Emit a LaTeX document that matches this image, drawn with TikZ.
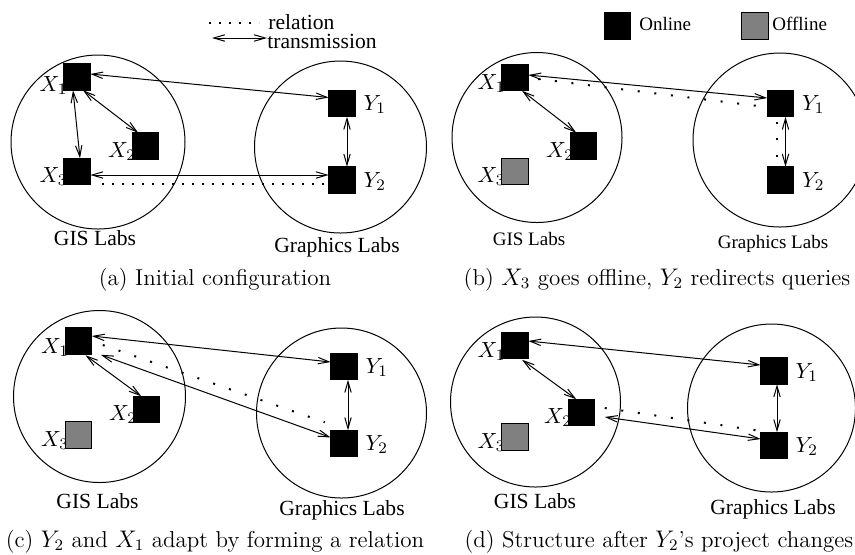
\documentclass[tikz,border=0pt]{standalone}
\usepackage{fontspec}
\newfontfamily\tms{Liberation Serif}
\usetikzlibrary{arrows.meta}
\definecolor{offgray}{RGB}{128,128,128}
\pgfdeclarelayer{bg}
\pgfsetlayers{bg,main}
\tikzset{
  sq/.style={draw=black, line width=0.5pt, fill=black, minimum size=13.25pt, inner sep=0pt, outer sep=0pt},
  offsq/.style={sq, fill=offgray},
  labring/.style={draw, circle, line width=0.5pt, inner sep=0pt},
  tx/.style={inner sep=0pt, font=\tms\fontsize{10.8}{12}\selectfont},
  txs/.style={inner sep=0pt, font=\tms\fontsize{9.5}{11}\selectfont},
  mlab/.style={inner sep=0pt, font=\fontsize{10.95}{13}\selectfont},
  captxt/.style={inner sep=0pt, anchor=base, font=\fontsize{11.5}{14}\selectfont},
  link/.style={line width=0.5pt,
    {Straight Barb[length=5.5pt,width=3.2pt]}-{Straight Barb[length=5.5pt,width=3.2pt]}},
  rel/.style={line width=1pt, dash pattern=on 1pt off 7.35pt},
  relfine/.style={line width=1pt, dash pattern=on 1pt off 4pt},
}
\begin{document}
\begin{tikzpicture}[x=0.5pt,y=-0.5pt]
\useasboundingbox (0,0) rectangle (855,554);

% ---------------- (a) initial configuration ----------------
\node[sq] (aX1) at (77,77) {};
\node[sq] (aX2) at (145.5,146) {};
\node[sq] (aX3) at (77,171.5) {};
\node[sq] (aY1) at (342,103.5) {};
\node[sq] (aY2) at (342,180) {};
\begin{pgfonlayer}{bg}
  \node[labring, minimum size=87pt] (aGIS) at (98,142) {};
  \node[labring, minimum size=86pt] (aGFX) at (340.5,147) {};
  \node[mlab, anchor=base east] (laX1) at ([shift={(4,14)}]aX1.west) {$X_1$};
  \node[mlab, anchor=base east] (laX2) at ([shift={(4,11)}]aX2.west) {$X_2$};
  \node[mlab, anchor=base east] (laX3) at ([shift={(4,11)}]aX3.west) {$X_3$};
\end{pgfonlayer}
\node[mlab, anchor=base west] (laY1) at ([shift={(8,7)}]aY1.east) {$Y_1$};
\node[mlab, anchor=base west] (laY2) at ([shift={(8,7)}]aY2.east) {$Y_2$};
\draw[link] ([shift={(0,-3)}]aX1.east) -- ([shift={(0,-6)}]aY1.west);
\draw[link] ([shift={(6,0)}]aX1.south) -- ([shift={(6,0)}]aX2.north west);
\draw[link] ([shift={(-4,0)}]aX1.south) -- ([shift={(3,0)}]aX3.north);
\draw[link] ([shift={(0,3.5)}]aX3.east) -- ([shift={(0,-5)}]aY2.west);
\draw[relfine] ([shift={(12,12.5)}]aX3.east) -- ([shift={(-2,4)}]aY2.west);
\draw[link] ([shift={(5,0)}]aY1.south) -- ([shift={(5,0)}]aY2.north);
\node[tx, anchor=base] (aGISt) at (95,245) {GIS Labs};
\node[tx, anchor=base] (aGFXt) at (337,252) {Graphics Labs};
% legend
\coordinate (lr1) at (209,23);
\coordinate (lr2) at (259,23);
\draw[relfine] (lr1) -- (lr2);
\node[tx, anchor=base west] (lrel) at (268,29) {relation};
\coordinate (lt1) at (212,38);
\coordinate (lt2) at (267,38);
\draw[link] (lt1) -- (lt2);
\node[tx, anchor=base west] (ltr) at (267,48) {transmission};
\node[captxt] (capa) at (215,285) {(a) Initial configuration};

% ---------------- (b) X3 offline ----------------
\node[sq] (bX1) at (515,77.5) {};
\node[sq] (bX2) at (583.5,146) {};
\node[offsq] (bX3) at (515,171.5) {};
\node[sq] (bY1) at (780.5,103.5) {};
\node[sq] (bY2) at (780.5,180) {};
\begin{pgfonlayer}{bg}
  \node[labring, minimum size=85pt] (bGIS) at (537,137.5) {};
  \node[labring, minimum size=87pt] (bGFX) at (780,140) {};
  \node[mlab, anchor=base east] (lbX1) at ([shift={(4,12)}]bX1.west) {$X_1$};
  \node[mlab, anchor=base east] (lbX2) at ([shift={(4,11)}]bX2.west) {$X_2$};
  \node[mlab, anchor=base east] (lbX3) at ([shift={(4,11)}]bX3.west) {$X_3$};
\end{pgfonlayer}
\node[mlab, anchor=base west] (lbY1) at ([shift={(8,7)}]bY1.east) {$Y_1$};
\node[mlab, anchor=base west] (lbY2) at ([shift={(8,7)}]bY2.east) {$Y_2$};
\draw[link] ([shift={(0,-2.5)}]bX1.east) -- ([shift={(0,-5.5)}]bY1.west);
\draw[link] ([shift={(7,0)}]bX1.south) -- ([shift={(6,0)}]bX2.north west);
\draw[rel] ([shift={(10,1.5)}]bX1.east) -- ([shift={(-9,2.5)}]bY1.west);
\draw[link] ([shift={(5,0)}]bY1.south) -- ([shift={(5,0)}]bY2.north);
\draw[rel] ([shift={(-3.5,5)}]bY1.south) -- ([shift={(-3.5,-10)}]bY2.north);
\node[txs, anchor=base] (bGISt) at (529,245) {GIS Labs};
\node[txs, anchor=base] (bGFXt) at (773,248) {Graphics Labs};
% legend
\node[sq] (lon) at (617.5,26) {};
\node[txs, anchor=base west] (lont) at (639,30) {Online};
\node[offsq] (loff) at (755,26) {};
\node[txs, anchor=base west] (lofft) at (772,30) {Offline};
\node[captxt] (capb) at (657,285) {(b) $X_3$ goes offline, $Y_2$ redirects queries};

% ---------------- (c) Y2 and X1 adapt ----------------
\node[sq] (cX1) at (78.5,341) {};
\node[sq] (cX2) at (146.5,409.5) {};
\node[offsq] (cX3) at (78.5,435) {};
\node[sq] (cY1) at (344,366.5) {};
\node[sq] (cY2) at (344,443.5) {};
\begin{pgfonlayer}{bg}
  \node[labring, minimum size=86pt] (cGIS) at (99.5,396.5) {};
  \node[labring, minimum size=85pt] (cGFX) at (341.5,413) {};
  \node[mlab, anchor=base east] (lcX1) at ([shift={(4,12)}]cX1.west) {$X_1$};
  \node[mlab, anchor=base east] (lcX2) at ([shift={(4,11)}]cX2.west) {$X_2$};
  \node[mlab, anchor=base east] (lcX3) at ([shift={(4,11)}]cX3.west) {$X_3$};
\end{pgfonlayer}
\node[mlab, anchor=base west] (lcY1) at ([shift={(8,7)}]cY1.east) {$Y_1$};
\node[mlab, anchor=base west] (lcY2) at ([shift={(8,7)}]cY2.east) {$Y_2$};
\draw[link] ([shift={(0,-5)}]cX1.east) -- ([shift={(0,-4.5)}]cY1.west);
\draw[link] ([shift={(7,1)}]cX1.south) -- ([shift={(8,0)}]cX2.north west);
\draw[link] ([shift={(9,0.5)}]cX1.south east) -- ([shift={(0,-6)}]cY2.west);
\draw[rel] ([shift={(11,4)}]cX1.east) -- ([shift={(-6,-8)}]cY2.north west);
\draw[link] ([shift={(4,0)}]cY1.south) -- ([shift={(4,0)}]cY2.north);
\node[tx, anchor=base] (cGISt) at (97.5,508) {GIS Labs};
\node[tx, anchor=base] (cGFXt) at (342,515) {Graphics Labs};
\node[captxt] (capc) at (215,547) {(c) $Y_2$ and $X_1$ adapt by forming a relation};

% ---------------- (d) after Y2's project changes ----------------
\node[sq] (dX1) at (515,345.5) {};
\node[sq] (dX2) at (581.5,412.5) {};
\node[offsq] (dX3) at (515,437) {};
\node[sq] (dY1) at (774,371) {};
\node[sq] (dY2) at (774,445.5) {};
\begin{pgfonlayer}{bg}
  \node[labring, minimum size=85pt] (dGIS) at (535.5,402) {};
  \node[labring, minimum size=84pt] (dGFX) at (771.5,408) {};
  \node[mlab, anchor=base east] (ldX1) at ([shift={(4,12)}]dX1.west) {$X_1$};
  \node[mlab, anchor=base east] (ldX2) at ([shift={(4,11)}]dX2.west) {$X_2$};
  \node[mlab, anchor=base east] (ldX3) at ([shift={(4,11)}]dX3.west) {$X_3$};
\end{pgfonlayer}
\node[mlab, anchor=base west] (ldY1) at ([shift={(8,7)}]dY1.east) {$Y_1$};
\node[mlab, anchor=base west] (ldY2) at ([shift={(8,7)}]dY2.east) {$Y_2$};
\draw[link] ([shift={(0,-4.5)}]dX1.east) -- ([shift={(0,-6)}]dY1.west);
\draw[link] ([shift={(7,1)}]dX1.south) -- ([shift={(8,0)}]dX2.north west);
\draw[link] ([shift={(10,4.5)}]dX2.east) -- ([shift={(0,-6.5)}]dY2.west);
\draw[rel] ([shift={(10,-4.5)}]dX2.east) -- ([shift={(-5,-2)}]dY2.north west);
\draw[link] ([shift={(3,0)}]dY1.south) -- ([shift={(3,0)}]dY2.north);
\node[tx, anchor=base] (dGISt) at (535,508) {GIS Labs};
\node[tx, anchor=base] (dGFXt) at (773,514) {Graphics Labs};
\node[captxt] (capd) at (659,547) {(d) Structure after $Y_2$'s project changes};
\end{tikzpicture}
\end{document}
